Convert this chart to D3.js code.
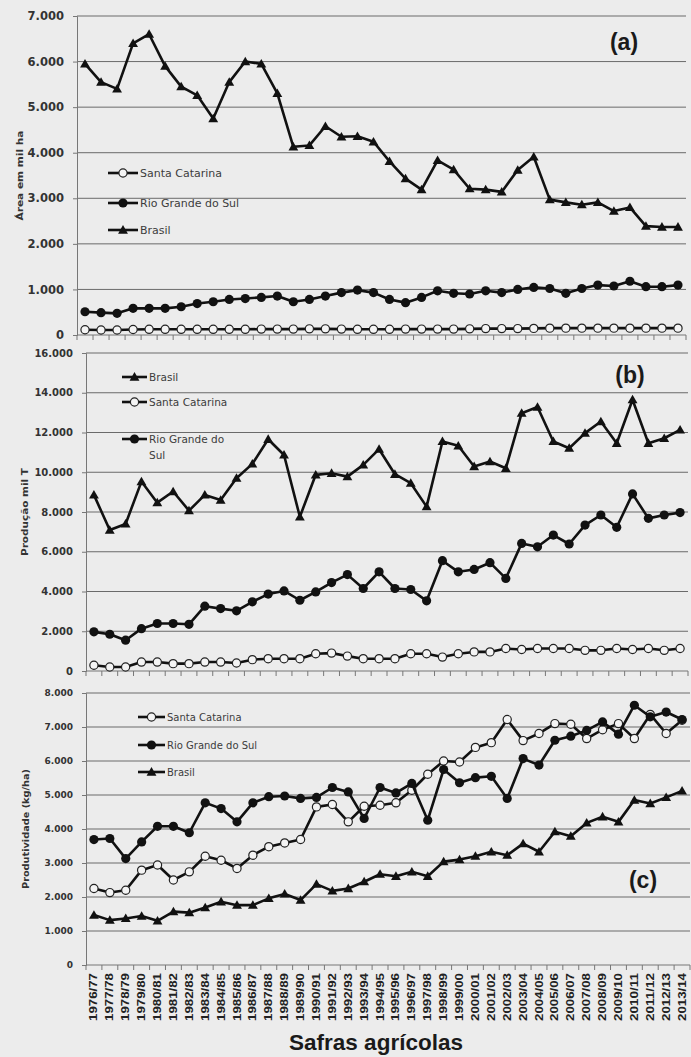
<!DOCTYPE html>
<html>
<head>
<meta charset="utf-8">
<script src="https://cdn.jsdelivr.net/npm/d3@7"></script>
<style>
  body { margin: 0; background: #ececec; }
  svg { display: block; }
</style>
</head>
<body>
<svg id="chart" width="691" height="1057"></svg>
<script>
// Safras agrícolas (rice) 1976/77 – 2013/14
const safras = ["1976/77","1977/78","1978/79","1979/80","1980/81","1981/82","1982/83","1983/84",
  "1984/85","1985/86","1986/87","1987/88","1988/89","1989/90","1990/91","1991/92","1992/93",
  "1993/94","1994/95","1995/96","1996/97","1997/98","1998/99","1999/00","2000/01","2001/02",
  "2002/03","2003/04","2004/05","2005/06","2006/07","2007/08","2008/09","2009/10","2010/11",
  "2011/12","2012/13","2013/14"];

// (a) Área em mil ha
const areaBrasil = [5950,5550,5400,6400,6600,5900,5450,5260,4750,5550,6000,5950,5300,4130,4160,4580,4350,
  4360,4240,3810,3430,3190,3830,3630,3210,3190,3140,3620,3910,2970,2910,2860,2910,2720,2800,2390,2370,2370];
const areaRS = [510,490,475,585,585,585,620,690,730,780,800,825,855,730,780,855,930,
  985,930,780,710,825,970,915,900,970,930,1000,1045,1020,915,1020,1095,1075,1180,1060,1060,1095];
const areaSC = [115,110,110,120,125,125,125,125,125,125,125,130,130,130,135,135,130,
  125,125,125,130,130,130,130,135,140,140,140,145,150,150,150,150,150,150,150,150,150];

// (b) Produção mil T
const prodBrasil = [8860,7090,7400,9530,8470,9030,8070,8860,8600,9700,10420,11660,10870,7760,9870,9950,9780,
  10370,11160,9900,9450,8270,11550,11330,10290,10540,10200,12970,13280,11550,11210,11970,12550,11460,13650,11460,11710,12130];
const prodRS = [1970,1850,1550,2130,2390,2390,2350,3260,3140,3030,3480,3870,4030,3560,3980,4450,4850,
  4150,4990,4150,4100,3530,5550,4990,5110,5450,4660,6420,6250,6840,6390,7340,7850,7230,8910,7680,7850,7970];
const prodSC = [290,200,200,450,450,370,370,450,450,400,570,620,620,620,870,900,750,
  620,620,620,870,870,700,870,960,960,1130,1080,1130,1130,1130,1040,1040,1130,1080,1130,1040,1130];

// (c) Produtividade (kg/ha)
const rendSC = [2250,2130,2200,2790,2940,2500,2740,3200,3080,2840,3230,3480,3590,3690,4650,4720,4210,
  4670,4700,4770,5140,5610,6000,5970,6400,6540,7220,6600,6810,7100,7080,6660,6920,7100,6660,7370,6810,7200];
const rendRS = [3690,3720,3130,3620,4080,4080,3890,4770,4600,4210,4770,4950,4970,4900,4930,5220,5090,
  4310,5220,5060,5340,4260,5750,5360,5510,5550,4900,6070,5880,6610,6730,6900,7150,6790,7640,7300,7440,7220];
const rendBrasil = [1470,1320,1370,1440,1300,1570,1540,1690,1860,1760,1760,1960,2090,1910,2380,2180,2250,
  2450,2670,2610,2740,2610,3040,3100,3200,3330,3230,3570,3330,3920,3790,4180,4360,4210,4850,4750,4930,5120];

const nomeSC = "Santa Catarina", nomeRS = "Rio Grande do Sul", nomeBR = "Brasil";

const fmt = d3.formatLocale({ decimal: ",", thousands: ".", grouping: [3], currency: ["", ""] }).format(",");

const svg = d3.select("#chart");
const ink = "#111";
const gridColor = "#6a6a6a";
const textColor = "#333";

const panels = [
  { tag: "(a)", tagX: 624, tagY: 50, title: "Área em mil ha", titleX: 20, titleLen: 90,
    left: 77, right: 686, top: 16, bottom: 335, max: 7000, step: 1000, tickFont: 11.5,
    series: [ { name: nomeSC, kind: "open", values: areaSC },
              { name: nomeRS, kind: "dot", values: areaRS },
              { name: nomeBR, kind: "tri", values: areaBrasil } ],
    legend: { x0: 108, x1: 138, font: 11, items: [ { s: 0, y: 173, lines: [nomeSC] },
                                                  { s: 1, y: 203, lines: [nomeRS] },
                                                  { s: 2, y: 230, lines: [nomeBR] } ] } },
  { tag: "(b)", tagX: 630, tagY: 383, title: "Produção mil T", titleX: 25, titleLen: 88,
    left: 86, right: 688, top: 353, bottom: 671, max: 16000, step: 2000, tickFont: 10,
    series: [ { name: nomeSC, kind: "open", values: prodSC },
              { name: nomeRS, kind: "dot", values: prodRS },
              { name: nomeBR, kind: "tri", values: prodBrasil } ],
    legend: { x0: 122, x1: 147, font: 10.5, items: [ { s: 2, y: 377, lines: [nomeBR] },
                                                    { s: 0, y: 402, lines: [nomeSC] },
                                                    { s: 1, y: 439, lines: ["Rio Grande do", "Sul"] } ] } },
  { tag: "(c)", tagX: 643, tagY: 888, title: "Produtividade (kg/ha)", titleX: 26, titleLen: 120,
    left: 86, right: 690, top: 693, bottom: 965, max: 8000, step: 1000, tickFont: 9,
    series: [ { name: nomeSC, kind: "open", values: rendSC },
              { name: nomeRS, kind: "dot", values: rendRS },
              { name: nomeBR, kind: "tri", values: rendBrasil } ],
    legend: { x0: 138, x1: 165, font: 10, items: [ { s: 0, y: 717, lines: [nomeSC] },
                                                  { s: 1, y: 745, lines: [nomeRS] },
                                                  { s: 2, y: 772, lines: [nomeBR] } ] } }
];

function drawMarker(g, kind, x, y) {
  if (kind === "tri") {
    g.append("path")
      .attr("d", d3.symbol(d3.symbolTriangle, 42)())
      .attr("transform", `translate(${x},${y + 0.8})`)
      .attr("fill", ink);
  } else if (kind === "dot") {
    g.append("circle").attr("cx", x).attr("cy", y).attr("r", 4.6).attr("fill", ink);
  } else {
    g.append("circle").attr("cx", x).attr("cy", y).attr("r", 4.1)
      .attr("fill", "#f4f4f4").attr("stroke", "#222").attr("stroke-width", 1.2);
  }
}

let lastX = null;

panels.forEach(p => {
  const x = d3.scaleBand().domain(safras).range([p.left, p.right]).paddingInner(0).paddingOuter(0);
  const y = d3.scaleLinear().domain([0, p.max]).range([p.bottom, p.top]);
  const cx = d => x(d) + x.bandwidth() / 2;
  lastX = x;

  const g = svg.append("g");

  // horizontal gridlines
  const ticks = d3.range(0, p.max + 1, p.step);
  g.append("g").selectAll("line").data(ticks.filter(t => t > 0)).join("line")
    .attr("x1", p.left).attr("x2", p.right)
    .attr("y1", d => y(d)).attr("y2", d => y(d))
    .attr("stroke", gridColor).attr("stroke-width", 1);

  // y axis
  const yAxis = d3.axisLeft(y).tickValues(ticks).tickFormat(d => fmt(d)).tickSize(4).tickPadding(9);
  const ya = g.append("g").attr("transform", `translate(${p.left},0)`).call(yAxis);
  ya.select(".domain").attr("stroke", "#777");
  ya.selectAll(".tick line").attr("stroke", "#777");
  ya.selectAll("text")
    .attr("font-family", "'DejaVu Sans', Verdana, sans-serif")
    .attr("font-weight", "bold").attr("font-size", p.tickFont).attr("fill", textColor);

  // x axis baseline with ticks between the seasons
  g.append("line").attr("x1", p.left).attr("x2", p.right)
    .attr("y1", p.bottom).attr("y2", p.bottom).attr("stroke", "#777").attr("stroke-width", 1);
  const bounds = safras.map(d => x(d)).concat([x(safras[safras.length - 1]) + x.bandwidth()]);
  g.append("g").selectAll("line").data(bounds).join("line")
    .attr("x1", d => d).attr("x2", d => d)
    .attr("y1", p.bottom).attr("y2", p.bottom + 5)
    .attr("stroke", "#777").attr("stroke-width", 1);

  // y title
  g.append("text")
    .attr("transform", `translate(${p.titleX},${(p.top + p.bottom) / 2}) rotate(-90)`)
    .attr("text-anchor", "middle").attr("dy", "0.35em")
    .attr("font-family", "'DejaVu Sans', Verdana, sans-serif")
    .attr("font-weight", "bold").attr("font-size", 9.5).attr("fill", textColor)
    .attr("textLength", p.titleLen).attr("lengthAdjust", "spacingAndGlyphs")
    .text(p.title);

  // panel tag
  g.append("text").attr("x", p.tagX).attr("y", p.tagY).attr("text-anchor", "middle")
    .attr("font-family", "'Liberation Sans', Arial, sans-serif").attr("font-weight", "bold")
    .attr("font-size", 23).attr("fill", "#1a1a1a").text(p.tag);

  // series lines and markers
  const line = d3.line().x((v, i) => cx(safras[i])).y(v => y(v));
  p.series.forEach(s => {
    const sg = g.append("g");
    sg.append("path").datum(s.values).attr("d", line)
      .attr("fill", "none").attr("stroke", ink).attr("stroke-width", 2.6)
      .attr("stroke-linejoin", "round");
    s.values.forEach((v, i) => drawMarker(sg, s.kind, cx(safras[i]), y(v)));
  });

  // legend
  const L = p.legend;
  L.items.forEach(it => {
    const s = p.series[it.s];
    const lg = g.append("g");
    lg.append("line").attr("x1", L.x0).attr("x2", L.x1).attr("y1", it.y).attr("y2", it.y)
      .attr("stroke", ink).attr("stroke-width", 2.6);
    drawMarker(lg, s.kind, (L.x0 + L.x1) / 2, it.y);
    const t = lg.append("text").attr("x", L.x1 + 2).attr("y", it.y).attr("dy", "0.35em")
      .attr("font-family", "'DejaVu Sans', Verdana, sans-serif")
      .attr("font-size", L.font).attr("fill", "#3c3c3c");
    it.lines.forEach((ln, k) => {
      t.append("tspan").attr("x", L.x1 + 2).attr("dy", k === 0 ? "0.35em" : "1.6em").text(ln);
    });
  });
});

// season labels under the bottom panel
const bottom = panels[2].bottom;
svg.append("g").selectAll("text").data(safras).join("text")
  .attr("transform", d => `translate(${lastX(d) + lastX.bandwidth() / 2 + 3.5},${bottom + 8}) rotate(-90)`)
  .attr("text-anchor", "end")
  .attr("font-family", "'Liberation Sans Narrow', 'Liberation Sans', Arial, sans-serif")
  .attr("font-weight", "bold").attr("font-size", 10).attr("fill", "#222")
  .attr("textLength", 48).attr("lengthAdjust", "spacingAndGlyphs")
  .text(d => d);

// x title
svg.append("text").attr("x", 376).attr("y", 1050).attr("text-anchor", "middle")
  .attr("font-family", "'Liberation Sans Narrow', 'Liberation Sans', Arial, sans-serif")
  .attr("font-weight", "bold").attr("font-size", 22).attr("fill", "#1a1a1a")
  .attr("textLength", 174).attr("lengthAdjust", "spacingAndGlyphs")
  .text("Safras agrícolas");
</script>
</body>
</html>
